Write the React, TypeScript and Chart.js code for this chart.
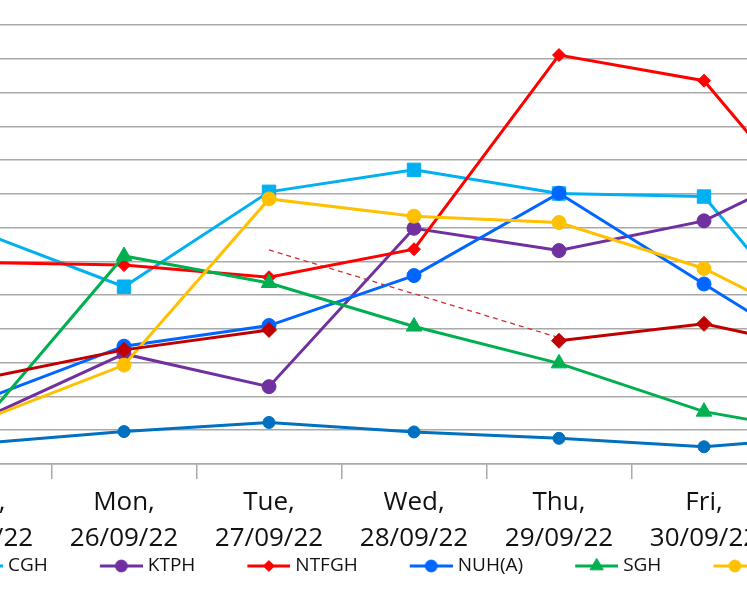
import { useEffect, useRef } from "react"
import { Chart, registerables } from "chart.js"
import { drawPoint } from "chart.js/helpers"

Chart.register(...registerables)

const FONT = "'Open Sans', sans-serif"
const GRID = "#A9A9A9"

// categories (the crop shows Mon..Fri, Sun and Sat sit just outside)
const days = [
  ["Sun,", "25/09/22"],
  ["Mon,", "26/09/22"],
  ["Tue,", "27/09/22"],
  ["Wed,", "28/09/22"],
  ["Thu,", "29/09/22"],
  ["Fri,", "30/09/22"],
  ["Sat,", "01/10/22"],
]

// values in gridline units (axis labels are outside the crop)
const ah = [0.61, 0.96, 1.23, 0.95, 0.76, 0.51, 0.85]
const cgh = [6.89, 5.25, 8.06, 8.71, 8.01, 7.92, 2.81]
const ktph = [1.29, 3.26, 2.29, 6.98, 6.32, 7.2, 9.29]
const ntfgh = [5.97, 5.89, 5.53, 6.36, 12.11, 11.35, 6.26]
const nuh = [1.86, 3.49, 4.1, 5.58, 8.02, 5.33, 2.67]
const sgh = [1.11, 6.16, 5.36, 4.07, 2.98, 1.55, 0.79]
const skh = [1.26, 2.93, 7.85, 7.34, 7.15, 5.79, 3.63]
const ttsh = [2.51, 3.38, 3.97, null, 3.65, 4.15, 3.22]
const ttshLink = [null, null, 6.34, null, 3.74, null, null]

const series = [
  { label: "AH", data: ah, color: "#0070C0", style: "circle", r: 6 },
  { label: "CGH", data: cgh, color: "#00B0F0", style: "rect", r: 9.5 },
  { label: "KTPH", data: ktph, color: "#7030A0", style: "circle", r: 7 },
  { label: "NTFGH", data: ntfgh, color: "#FF0000", style: "rectRot", r: 6.5 },
  { label: "NUH(A)", data: nuh, color: "#0066FF", style: "circle", r: 7 },
  { label: "SGH", data: sgh, color: "#00B050", style: "triangle", r: 9 },
  { label: "SKH", data: skh, color: "#FFC000", style: "circle", r: 7 },
  { label: "TTSH", data: ttsh, color: "#C00000", style: "rectRot", r: 7.5 },
]

// legend box is wide so items sit apart; the icon is drawn at its right end
const BOX_W = 88
const ICON_W = BOX_W + 9

function legendIcon(color: string, style: string, r: number) {
  const c = document.createElement("canvas")
  c.width = ICON_W
  c.height = 24
  const ctx = c.getContext("2d")!
  const x0 = ICON_W - 43
  ctx.strokeStyle = color
  ctx.lineWidth = 3
  ctx.beginPath()
  ctx.moveTo(x0, 12)
  ctx.lineTo(ICON_W, 12)
  ctx.stroke()
  ctx.fillStyle = color
  ctx.lineWidth = 1
  drawPoint(ctx, { pointStyle: style, radius: r * 0.85, rotation: 0, borderWidth: 1 } as any, x0 + 21.5, 12)
  return c
}

export default function App() {
  const chartRef = useRef<HTMLCanvasElement>(null)
  const chartInstance = useRef<Chart | null>(null)

  useEffect(() => {
    if (!chartRef.current) return
    if (chartInstance.current) chartInstance.current.destroy()

    const icons = series.map((s) => legendIcon(s.color, s.style, s.r))

    const datasets: any[] = series.map((s, i) => ({
      label: s.label,
      data: s.data,
      borderColor: s.color,
      backgroundColor: s.color,
      borderWidth: 3,
      pointStyle: s.style,
      pointRadius: s.r,
      pointBorderWidth: 1,
      pointBackgroundColor: s.color,
      pointBorderColor: s.color,
      spanGaps: false,
      tension: 0,
      order: series.length - i,
    }))
    datasets.push({
      label: "",
      data: ttshLink,
      borderColor: "#D03030",
      borderWidth: 1.3,
      borderDash: [5, 4],
      pointRadius: 0,
      spanGaps: true,
      order: 20,
    })

    chartInstance.current = new Chart(chartRef.current, {
      type: "line",
      data: { labels: days, datasets },
      options: {
        animation: false,
        responsive: true,
        maintainAspectRatio: false,
        layout: { autoPadding: false, padding: { left: 2, right: 228.5, top: 25, bottom: 0 } },
        scales: {
          x: {
            offset: true,
            grid: {
              drawOnChartArea: false,
              drawTicks: true,
              tickLength: 15,
              offset: true,
              color: GRID,
              lineWidth: 1.5,
            },
            border: { display: true, color: GRID, width: 1.5 },
            ticks: {
              font: { family: FONT, size: 26, lineHeight: 1.37 },
              color: "#111",
              padding: 6,
              maxRotation: 0,
              autoSkip: false,
            },
            afterFit: (scale: any) => {
              scale.height = 90
            },
          },
          y: {
            min: 0,
            max: 13,
            ticks: { display: false, stepSize: 1 },
            grid: { color: GRID, lineWidth: 1.5, drawTicks: false },
            border: { display: false },
            afterFit: (scale: any) => {
              scale.width = 124.5
            },
          },
        },
        plugins: {
          legend: {
            position: "bottom",
            align: "start",
            maxHeight: 20,
            labels: {
              usePointStyle: true,
              pointStyleWidth: BOX_W,
              padding: 2.5,
              color: "#111",
              font: { family: FONT, size: 19 },
              generateLabels: (chart: Chart) => {
                const items = Chart.defaults.plugins.legend.labels.generateLabels(chart)
                return items
                  .filter((it) => it.text !== "")
                  .sort((a, b) => (a.datasetIndex ?? 0) - (b.datasetIndex ?? 0))
                  .map((it) => ({ ...it, pointStyle: icons[it.datasetIndex ?? 0] as any }))
              },
            },
          },
          tooltip: { enabled: false },
        },
      } as any,
    })

    return () => {
      if (chartInstance.current) {
        chartInstance.current.destroy()
        chartInstance.current = null
      }
    }
  }, [])

  return (
    <div
      style={{
        position: "fixed",
        left: 0,
        top: 0,
        width: 747,
        height: 598,
        overflow: "hidden",
        background: "#fff",
      }}
    >
      <div style={{ position: "absolute", left: -220, top: 0, width: 1370, height: 574 }}>
        <canvas ref={chartRef} />
      </div>
    </div>
  )
}
